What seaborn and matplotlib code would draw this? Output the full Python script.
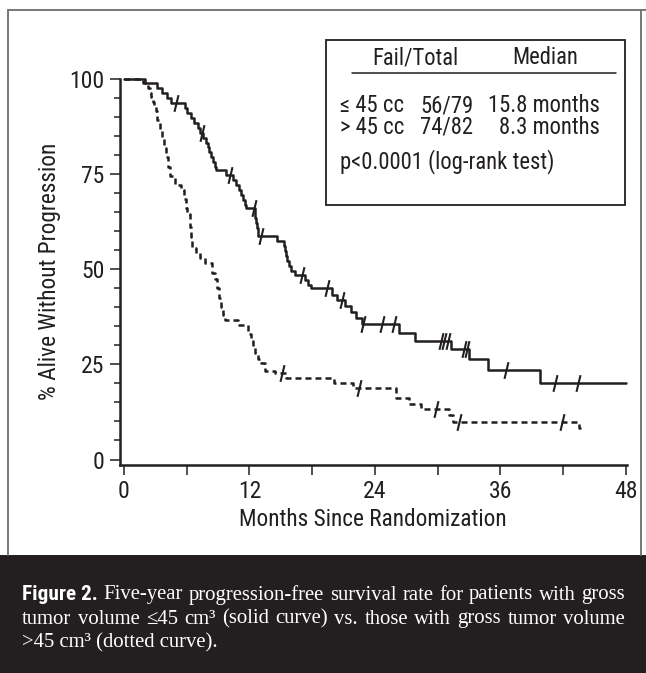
import numpy as np
import pandas as pd
import matplotlib
matplotlib.use('Agg')
import matplotlib.pyplot as plt
import seaborn as sns
from matplotlib import font_manager
from matplotlib.patches import Rectangle
from matplotlib.lines import Line2D
from matplotlib.path import Path
from matplotlib.ticker import MultipleLocator

# ≤45 cc 组（实线）：阶梯点（月，无进展生存率 %）
small_t = [0, 2.0, 3.2, 3.6, 4.1, 4.5, 5.8, 6.0, 6.4, 6.7, 7.1, 7.3, 7.6, 7.8, 8.0, 8.1,
           8.3, 8.5, 8.7, 8.8, 9.8, 10.4, 10.7, 11.0, 11.2, 11.4, 11.55, 11.7, 12.5, 12.55,
           12.6, 12.7, 12.8, 12.85, 14.6, 15.3, 15.4, 15.5, 15.6, 15.8, 16.0, 16.4, 17.3,
           17.6, 17.9, 19.9, 20.4, 21.1, 21.7, 22.2, 22.8, 26.3, 27.8, 31.3, 33.0, 34.8,
           39.8, 48.0]
small_s = [100, 98.7, 97.5, 96.2, 94.9, 93.6, 92.3, 91.0, 89.7, 88.4, 87.1, 85.8, 84.5,
           83.2, 81.9, 80.6, 79.3, 78.0, 76.7, 76.0, 74.7, 73.4, 72.1, 70.8, 69.5, 68.2,
           66.9, 65.9, 64.6, 63.3, 62.0, 60.7, 59.4, 58.7, 57.4, 56.1, 54.8, 53.5, 52.2,
           50.9, 49.6, 48.4, 47.1, 45.8, 44.9, 43.2, 41.9, 40.3, 38.8, 37.1, 35.5, 33.3,
           31.2, 28.9, 26.4, 23.5, 20.2, 20.2]
small_cens_t = [5.0, 7.5, 10.1, 12.4, 13.1, 17.0, 19.4, 20.8, 22.9, 24.7, 25.8, 30.3,
                30.6, 31.0, 32.5, 32.8, 36.5, 41.2, 43.4]
small_cens_s = [93.6, 85.8, 74.7, 65.9, 58.7, 48.4, 44.9, 41.9, 35.5, 35.5, 35.5, 31.2,
                31.2, 31.2, 28.9, 28.9, 23.5, 20.2, 20.2]

# >45 cc 组（虚线）
large_t = [0, 1.8, 2.3, 2.5, 2.6, 2.8, 2.9, 3.1, 3.2, 3.4, 3.6, 3.8, 4.0, 4.2, 4.4, 4.9,
           5.5, 5.7, 5.9, 6.0, 6.35, 6.4, 6.5, 6.9, 7.3, 7.7, 8.4, 8.7, 8.9, 9.1, 9.3, 9.5,
           9.65, 10.9, 11.9, 12.1, 12.3, 12.5, 12.8, 13.1, 13.5, 14.4, 15.5, 20.1, 21.9,
           26.0, 27.3, 28.4, 31.1, 31.5, 43.5, 43.7]
large_s = [100, 98.8, 97.6, 96.3, 95.1, 93.9, 92.7, 91.5, 89.0, 86.6, 84.1, 81.7, 79.3,
           76.8, 74.4, 72.0, 70.7, 68.3, 65.9, 64.4, 61.0, 58.5, 55.4, 54.2, 53.0, 51.5,
           49.0, 47.5, 45.0, 42.5, 40.0, 37.8, 36.6, 35.4, 33.0, 31.0, 29.5, 28.0, 26.5,
           25.2, 23.3, 22.6, 21.5, 20.2, 18.9, 16.1, 14.6, 13.2, 11.7, 9.8, 8.2, 8.2]
large_cens_t = [15.1, 22.5, 29.8, 32.0, 41.9]
large_cens_s = [22.6, 18.9, 13.2, 9.8, 9.8]

x_ticks = [0, 12, 24, 36, 48]
y_ticks = [0, 25, 50, 75, 100]

# 图例表格
groups = ['≤ 45 cc', '> 45 cc']
fail_total = ['56/79', '74/82']
medians = ['15.8 months', '8.3 months']
p_text = 'p<0.0001 (log-rank test)'

caption_lines = [
    ['Five-year', 'progression-free', 'survival', 'rate', 'for', 'patients', 'with', 'gross'],
    ['tumor', 'volume', '≤45', 'cm³', '(solid', 'curve)', 'vs.', 'those', 'with', 'gross',
     'tumor', 'volume'],
    ['>45 cm³ (dotted curve).'],
]

W, H = 646, 673
ink = '#231f20'

sns.set_style('ticks')

# 找一个窄体无衬线字体
_fonts = {(f.name, f.stretch) for f in font_manager.fontManager.ttflist}
_names = {n for n, s in _fonts}
stretch = 'normal'
if 'Liberation Sans Narrow' in _names:
    cond = 'Liberation Sans Narrow'
elif 'Roboto Condensed' in _names:
    cond = 'Roboto Condensed'
elif any(n == 'DejaVu Sans' and s in ('condensed', 'semi-condensed') for n, s in _fonts):
    cond = 'DejaVu Sans'
    stretch = 'condensed'
else:
    cond = 'Liberation Sans'
plt.rcParams['font.family'] = [cond, 'DejaVu Sans']
plt.rcParams['font.stretch'] = stretch
serif = ['Liberation Serif', 'DejaVu Serif']


def fx(px):
    return px / W


def fy(py):
    return 1 - py / H


fig = plt.figure(figsize=(W / 100, H / 100), dpi=100)
fig.patch.set_facecolor('white')
renderer = fig.canvas.get_renderer()


def fit_size(text, target_px, **kw):
    t = fig.text(0, 0, text, fontsize=10, **kw)
    w = t.get_window_extent(renderer).width
    t.remove()
    return 10 * target_px / w


leg_size = fit_size(p_text, 213)
lab_size = fit_size('Months Since Randomization', 267)
cap_size = fit_size(' '.join(caption_lines[1]), 592, family=serif)
fig_size = fit_size('Figure 2.', 76, weight='bold')

# 外框和图注底色
fig.add_artist(Line2D([fx(8), fx(8)], [fy(10), fy(555)], color='#777777', lw=1.4))
fig.add_artist(Line2D([fx(8), fx(646)], [fy(10), fy(10)], color='#777777', lw=1.4))
fig.add_artist(Line2D([fx(641), fx(641)], [fy(10), fy(555)], color='#777777', lw=1.4))
fig.add_artist(Rectangle((0, 0), 1, fy(555), transform=fig.transFigure,
                         facecolor=ink, edgecolor='none'))

ax = fig.add_axes([fx(120), fy(465), (626.5 - 120) / W, (465 - 78.5) / H])
ax.set_facecolor('none')

df_small = pd.DataFrame({'t': small_t, 's': small_s})
df_large = pd.DataFrame({'t': large_t, 's': large_s})

sns.lineplot(data=df_small, x='t', y='s', estimator=None, sort=False, ax=ax,
             drawstyle='steps-post', color=ink, lw=1.8, clip_on=False)
sns.lineplot(data=df_large, x='t', y='s', estimator=None, sort=False, ax=ax,
             drawstyle='steps-post', color=ink, lw=1.8, clip_on=False,
             linestyle=(0, (2.4, 1.6)))

# 删失标记（斜线）
tick_mark = Path([(-0.24, -1), (0.24, 1)], [Path.MOVETO, Path.LINETO])
ax.plot(small_cens_t, small_cens_s, ls='none', marker=tick_mark, ms=12, mew=1.5,
        mec=ink, clip_on=False)
ax.plot(large_cens_t, large_cens_s, ls='none', marker=tick_mark, ms=12, mew=1.5,
        mec=ink, clip_on=False)

ax.set_xlim(-0.38, 48.05)
ax.set_ylim(-1.44, 100)
ax.set_xticks(x_ticks)
ax.set_yticks(y_ticks)
ax.xaxis.set_minor_locator(MultipleLocator(6))
ax.yaxis.set_minor_locator(MultipleLocator(5))
ax.tick_params(which='major', length=7, width=1.1, color=ink, labelsize=leg_size * 1.05,
               labelcolor=ink, pad=4)
ax.tick_params(axis='y', which='minor', length=4, width=1.1, color=ink)
ax.tick_params(axis='x', which='minor', length=7, width=1.1, color=ink)
sns.despine(ax=ax)
for sp in ['left', 'bottom']:
    ax.spines[sp].set_linewidth(1.8)
    ax.spines[sp].set_color(ink)

ax_h = 465 - 78.5
ax_w = 626.5 - 120
ax.set_xlabel('Months Since Randomization', fontsize=lab_size, color=ink, va='center')
ax.xaxis.set_label_coords(0.5, -(519 - 465) / ax_h)
ax.set_ylabel('% Alive Without Progression', fontsize=lab_size, color=ink, va='center')
ax.yaxis.set_label_coords((50 - 120) / ax_w, 0.5)

# 图例框
fig.add_artist(Rectangle((fx(326), fy(205)), fx(625) - fx(326), fy(40) - fy(205),
                         transform=fig.transFigure, facecolor='white',
                         edgecolor=ink, lw=1.3))
fig.add_artist(Line2D([fx(352), fx(616)], [fy(73), fy(73)], color=ink, lw=1.1))
fig.text(fx(415), fy(58), 'Fail/Total', ha='center', va='center', fontsize=leg_size, color=ink)
fig.text(fx(545), fy(58), 'Median', ha='center', va='center', fontsize=leg_size, color=ink)
for i, row_y in enumerate([106, 127]):
    fig.text(fx(340), fy(row_y), groups[i], ha='left', va='center', fontsize=leg_size, color=ink)
    fig.text(fx(420), fy(row_y), fail_total[i], ha='left', va='center', fontsize=leg_size,
             color=ink)
    fig.text(fx(600), fy(row_y), medians[i], ha='right', va='center', fontsize=leg_size,
             color=ink)
fig.text(fx(340), fy(162), p_text, ha='left', va='center', fontsize=leg_size, color=ink)

# 图注（两端对齐）
line_y = [595, 619, 643]
x0, x1 = 22, 625
for k, words in enumerate(caption_lines):
    items = []
    if k == 0:
        items.append(fig.text(0, fy(line_y[k]), 'Figure 2.', fontsize=fig_size,
                              weight='bold', color='white', va='center'))
    for w in words:
        items.append(fig.text(0, fy(line_y[k]), w, fontsize=cap_size, color='white',
                              va='center', family=serif))
    widths = [t.get_window_extent(renderer).width for t in items]
    if k < len(caption_lines) - 1:
        gap = (x1 - x0 - sum(widths)) / (len(items) - 1)
    else:
        gap = 0
    x = x0
    for t, w in zip(items, widths):
        t.set_x(fx(x))
        x += w + gap

fig.savefig('out.png', dpi=100, facecolor=fig.get_facecolor())
